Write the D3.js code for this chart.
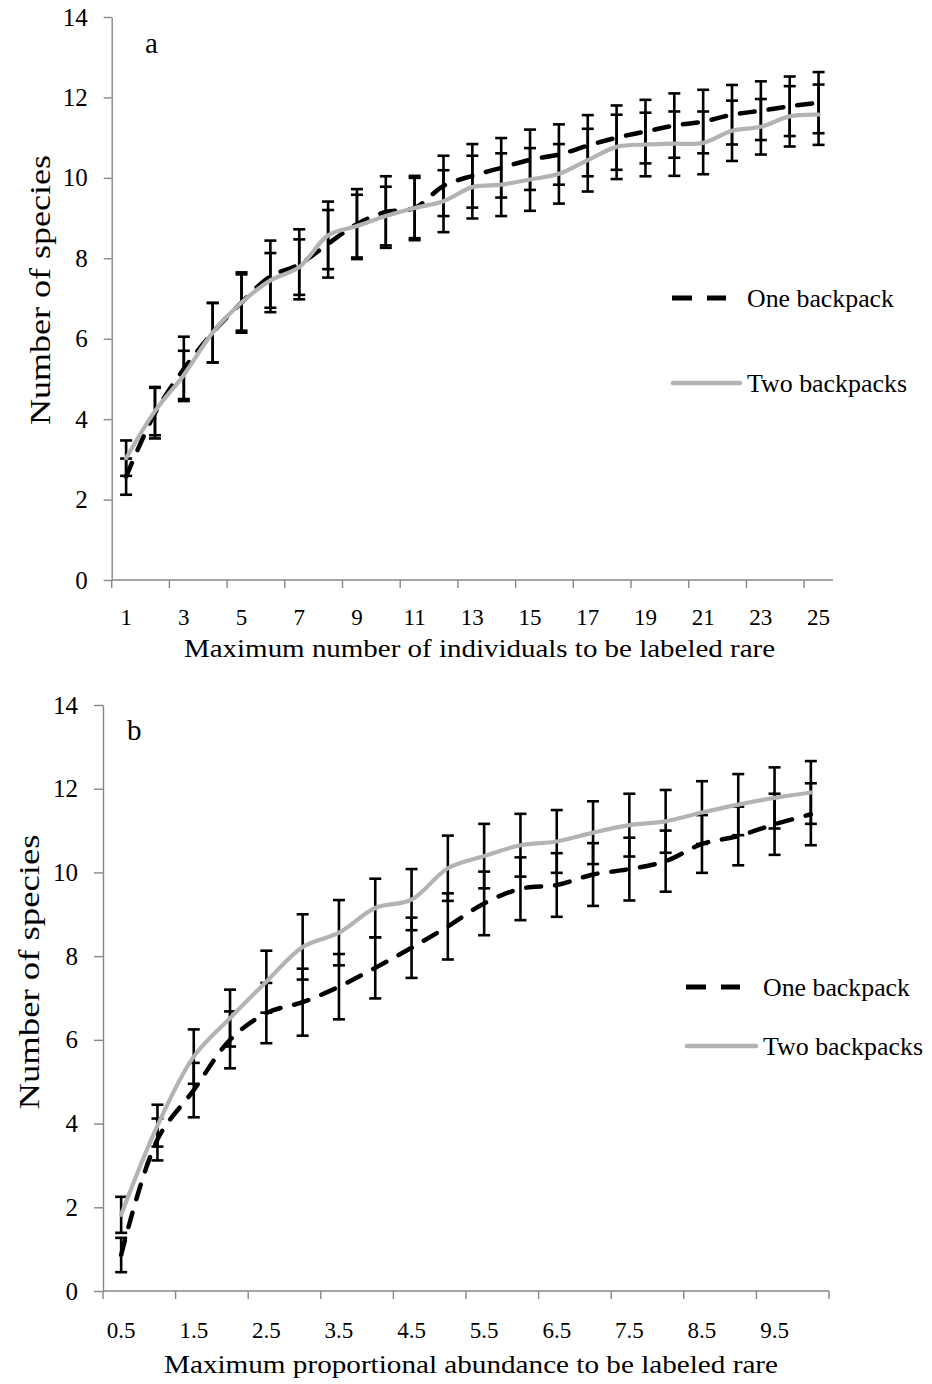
<!DOCTYPE html>
<html>
<head>
<meta charset="utf-8">
<script src="https://cdn.jsdelivr.net/npm/d3@7"></script>
<style>
  html, body { margin: 0; padding: 0; background: #ffffff; }
  svg text { font-family: "Liberation Serif", "Times New Roman", serif; fill: #000; }
</style>
</head>
<body>
<svg id="chart" width="932" height="1384"></svg>
<script>
// ---------- DATA ----------
const catsA = ["1","2","3","4","5","6","7","8","9","10","11","12","13","14","15","16","17","18","19","20","21","22","23","24","25"];
const tickLabelsA = ["1","3","5","7","9","11","13","15","17","19","21","23","25"];
const oneA    = [2.57, 4.15, 5.25, 6.15, 6.9, 7.55, 7.85, 8.36, 8.85, 9.15, 9.25, 9.8, 10.05, 10.25, 10.45, 10.58, 10.8, 11.0, 11.15, 11.3, 11.4, 11.57, 11.67, 11.78, 11.87];
const oneAErr = [0.45, 0.63, 0.8, 0.74, 0.75, 0.89, 0.87, 0.84, 0.87, 0.89, 0.8, 0.75, 0.79, 0.74, 0.75, 0.75, 0.76, 0.8, 0.79, 0.8, 0.79, 0.74, 0.73, 0.74, 0.76];
const twoA    = [3.03, 4.2, 5.1, 6.15, 6.9, 7.45, 7.78, 8.57, 8.8, 9.05, 9.25, 9.42, 9.77, 9.83, 9.96, 10.1, 10.44, 10.77, 10.83, 10.85, 10.87, 11.17, 11.27, 11.53, 11.57];
const twoAErr = [0.44, 0.6, 0.6, 0.74, 0.7, 0.68, 0.69, 0.84, 0.78, 0.73, 0.75, 0.77, 0.78, 0.78, 0.78, 0.74, 0.78, 0.8, 0.79, 0.8, 0.78, 0.75, 0.69, 0.75, 0.75];

const catsB = ["0.5","1","1.5","2","2.5","3","3.5","4","4.5","5","5.5","6","6.5","7","7.5","8","8.5","9","9.5","10"];
const tickLabelsB = ["0.5","1.5","2.5","3.5","4.5","5.5","6.5","7.5","8.5","9.5"];
const oneB    = [0.86, 3.62, 4.8, 6.0, 6.64, 6.9, 7.27, 7.72, 8.2, 8.71, 9.26, 9.61, 9.7, 9.95, 10.08, 10.27, 10.68, 10.87, 11.15, 11.39];
const oneBErr = [0.41, 0.5, 0.65, 0.68, 0.72, 0.8, 0.78, 0.73, 0.72, 0.79, 0.76, 0.75, 0.76, 0.75, 0.75, 0.73, 0.69, 0.7, 0.73, 0.74];
const twoB    = [1.82, 3.95, 5.6, 6.52, 7.39, 8.22, 8.56, 9.15, 9.35, 10.1, 10.39, 10.65, 10.74, 10.95, 11.13, 11.22, 11.43, 11.62, 11.78, 11.91];
const twoBErr = [0.43, 0.5, 0.65, 0.68, 0.74, 0.78, 0.78, 0.7, 0.73, 0.78, 0.77, 0.75, 0.75, 0.75, 0.75, 0.75, 0.75, 0.73, 0.73, 0.75];

const yTicks = [0, 2, 4, 6, 8, 10, 12, 14];
const seriesNames = ["One backpack", "Two backpacks"];
const yTitle = "Number of species";
const xTitleA = "Maximum number of individuals to be labeled rare";
const xTitleB = "Maximum proportional abundance to be labeled rare";

// ---------- DRAW ----------
const svg = d3.select("#chart");
svg.append("rect").attr("width", 932).attr("height", 1384).attr("fill", "#ffffff");

const AXIS = "#878787";

function panel(cfg) {
  const g = svg.append("g");
  const x = d3.scaleBand().domain(cfg.cats).range([cfg.left, cfg.right]).paddingInner(0).paddingOuter(0);
  const y = d3.scaleLinear().domain([0, 14]).range([cfg.bottom, cfg.top]);
  const bw = x.bandwidth();
  const cx = c => x(c) + bw / 2;

  // y axis
  const ya = g.append("g").attr("transform", `translate(${cfg.left},0)`)
    .call(d3.axisLeft(y).tickValues(yTicks).tickSize(cfg.ytick).tickSizeOuter(0).tickPadding(cfg.ypad).tickFormat(d3.format("d")));
  ya.select(".domain").attr("stroke", AXIS).attr("stroke-width", 1.4);
  ya.selectAll(".tick line").attr("stroke", AXIS).attr("stroke-width", 1.4);
  ya.selectAll(".tick text").style("font-family", '"Liberation Serif", serif').style("font-size", "25px").attr("fill", "#000");

  // x axis line
  g.append("line").attr("x1", cfg.left).attr("x2", cfg.right).attr("y1", cfg.bottom).attr("y2", cfg.bottom)
    .attr("stroke", AXIS).attr("stroke-width", 1.4);
  // tick marks at every second category boundary
  const bounds = cfg.cats.map((c, i) => i).filter(i => i % 2 === 0).map(i => x(cfg.cats[i]));
  if (cfg.cats.length % 2 === 0) bounds.push(cfg.right);
  g.selectAll(".xtk").data(bounds).enter().append("line")
    .attr("x1", d => d).attr("x2", d => d).attr("y1", cfg.bottom).attr("y2", cfg.bottom + 8)
    .attr("stroke", AXIS).attr("stroke-width", 1.4);
  // x tick labels
  g.selectAll(".xtl").data(cfg.tickLabels).enter().append("text")
    .attr("x", d => cx(d)).attr("y", cfg.bottom + cfg.xlabOff)
    .attr("text-anchor", "middle").style("font-size", "23px").text(d => d);

  // error bars
  const capW = 6;
  function bars(vals, errs) {
    const data = cfg.cats.map((c, i) => ({ c, v: vals[i], e: errs[i] }));
    const eg = g.append("g").attr("stroke", "#000").attr("stroke-width", 2.6).attr("fill", "none");
    eg.selectAll(".v").data(data).enter().append("line")
      .attr("x1", d => cx(d.c)).attr("x2", d => cx(d.c))
      .attr("y1", d => y(d.v - d.e)).attr("y2", d => y(d.v + d.e));
    eg.selectAll(".t").data(data).enter().append("line")
      .attr("x1", d => cx(d.c) - capW).attr("x2", d => cx(d.c) + capW)
      .attr("y1", d => y(d.v + d.e)).attr("y2", d => y(d.v + d.e));
    eg.selectAll(".b").data(data).enter().append("line")
      .attr("x1", d => cx(d.c) - capW).attr("x2", d => cx(d.c) + capW)
      .attr("y1", d => y(d.v - d.e)).attr("y2", d => y(d.v - d.e));
  }
  bars(cfg.one, cfg.oneErr);
  bars(cfg.two, cfg.twoErr);

  const line = d3.line().x(d => cx(d.c)).y(d => y(d.v)).curve(d3.curveCatmullRom.alpha(0.5));
  g.append("path").datum(cfg.cats.map((c, i) => ({ c, v: cfg.one[i] })))
    .attr("d", line).attr("fill", "none").attr("stroke", "#000").attr("stroke-width", 4.5)
    .attr("stroke-dasharray", "15,14").attr("stroke-linecap", "round");
  g.append("path").datum(cfg.cats.map((c, i) => ({ c, v: cfg.two[i] })))
    .attr("d", line).attr("fill", "none").attr("stroke", "#b3b3b3").attr("stroke-width", 4.2)
    .attr("stroke-linejoin", "round").attr("stroke-linecap", "round");

  // legend
  const L = cfg.legend;
  g.append("line").attr("x1", L.x1).attr("x2", L.x1 + 54).attr("y1", L.y1).attr("y2", L.y1)
    .attr("stroke", "#000").attr("stroke-width", 5).attr("stroke-dasharray", "20,15");
  g.append("text").attr("x", L.tx).attr("y", L.y1 + 9).style("font-size", "26px")
    .attr("textLength", 147).attr("lengthAdjust", "spacingAndGlyphs").text(seriesNames[0]);
  g.append("line").attr("x1", L.x1 + 1).attr("x2", L.x2b).attr("y1", L.y2).attr("y2", L.y2)
    .attr("stroke", "#b3b3b3").attr("stroke-width", 4.5).attr("stroke-linecap", "round");
  g.append("text").attr("x", L.tx).attr("y", L.y2 + 9).style("font-size", "26px")
    .attr("textLength", 160).attr("lengthAdjust", "spacingAndGlyphs").text(seriesNames[1]);

  // panel letter
  g.append("text").attr("x", cfg.letter.x).attr("y", cfg.letter.y).style("font-size", "29px").text(cfg.letter.t);

  // titles
  g.append("text").attr("x", cfg.xTitle.x).attr("y", cfg.xTitle.y).style("font-size", "25px")
    .attr("textLength", cfg.xTitle.len).attr("lengthAdjust", "spacingAndGlyphs").text(cfg.xTitle.t);
  g.append("text").attr("transform", `translate(${cfg.yTitle.x},${cfg.yTitle.y}) rotate(-90)`)
    .attr("text-anchor", "middle").style("font-size", "29px")
    .attr("textLength", cfg.yTitle.len).attr("lengthAdjust", "spacingAndGlyphs").text(yTitle);
}

panel({
  cats: catsA, tickLabels: tickLabelsA, one: oneA, oneErr: oneAErr, two: twoA, twoErr: twoAErr,
  left: 111.7, right: 833, top: 17, bottom: 580, ytick: 8, ypad: 16, xlabOff: 45,
  legend: { x1: 672, y1: 298, y2: 383, x2b: 740, tx: 747 },
  letter: { x: 145, y: 53, t: "a" },
  xTitle: { x: 184, y: 657, len: 591, t: xTitleA },
  yTitle: { x: 50, y: 290, len: 270 }
});

panel({
  cats: catsB, tickLabels: tickLabelsB, one: oneB, oneErr: oneBErr, two: twoB, twoErr: twoBErr,
  left: 103, right: 829, top: 705, bottom: 1291, ytick: 9, ypad: 16, xlabOff: 47,
  legend: { x1: 686, y1: 987, y2: 1046, x2b: 756, tx: 763 },
  letter: { x: 127, y: 740, t: "b" },
  xTitle: { x: 164, y: 1373, len: 614, t: xTitleB },
  yTitle: { x: 39, y: 972, len: 275 }
});
</script>
</body>
</html>
